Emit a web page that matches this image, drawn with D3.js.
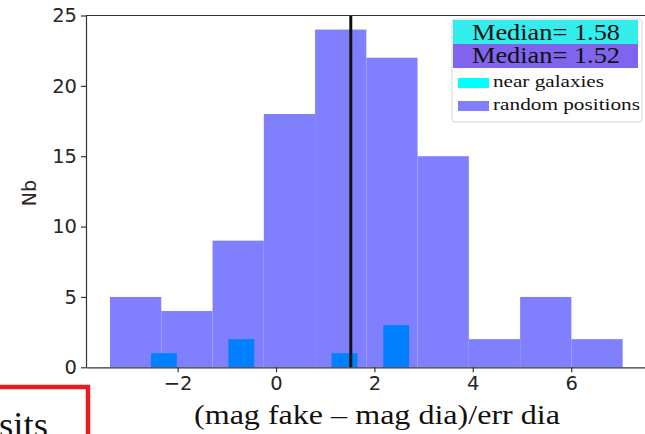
<!DOCTYPE html>
<html>
<head>
<meta charset="utf-8">
<script src="https://cdn.jsdelivr.net/npm/d3@7"></script>
<style>
  html, body { margin: 0; padding: 0; background: #fff; }
  svg { display: block; }
</style>
</head>
<body>
<svg id="chart" width="645" height="434"></svg>
<script>
// Histogram of (mag fake - mag dia)/err dia for injected sources
const randomBinEdges = [-3.374, -2.332, -1.290, -0.248, 0.794, 1.836, 2.878, 3.920, 4.962, 6.004, 7.046];
const randomCounts   = [5, 4, 9, 18, 24, 22, 15, 2, 5, 2];

const nearBinEdges = [-2.540, -2.016, -1.491, -0.967, -0.442, 0.082, 0.607, 1.131, 1.656, 2.180, 2.705];
const nearCounts   = [1, 0, 0, 2, 0, 0, 0, 1, 0, 3];

const medianNear = 1.58;
const medianRandom = 1.52;

const xTicks = [-2, 0, 2, 4, 6];
const yTicks = [0, 5, 10, 15, 20, 25];

const legendItems = [
  { label: "near galaxies", color: "#00ffff", len: 111 },
  { label: "random positions", color: "#8080ff", len: 147 }
];
const medianBoxes = [
  { label: "Median= " + medianNear.toFixed(2), color: "#33ecec" },
  { label: "Median= " + medianRandom.toFixed(2), color: "#8064ee" }
];

const svg = d3.select("#chart");

const x = d3.scaleLinear().domain([-3.862, 7.6]).range([86, 649.9]);
const y = d3.scaleLinear().domain([0, 25]).range([367.3, 15.5]);

const toBins = (edges, counts) => counts.map((c, i) => ({ x0: edges[i], x1: edges[i + 1], n: c }));

// random positions
svg.append("g").selectAll("rect")
  .data(toBins(randomBinEdges, randomCounts))
  .join("rect")
  .attr("x", d => x(d.x0))
  .attr("width", d => x(d.x1) - x(d.x0))
  .attr("y", d => y(d.n))
  .attr("height", d => y(0) - y(d.n))
  .attr("fill", "#8080ff");

// near galaxies
svg.append("g").selectAll("rect")
  .data(toBins(nearBinEdges, nearCounts).filter(d => d.n > 0))
  .join("rect")
  .attr("x", d => x(d.x0))
  .attr("width", d => x(d.x1) - x(d.x0))
  .attr("y", d => y(d.n))
  .attr("height", d => y(0) - y(d.n))
  .attr("fill", "#0080ff");

// median line
svg.append("line")
  .attr("x1", x(medianRandom)).attr("x2", x(medianRandom))
  .attr("y1", y(25)).attr("y2", y(0))
  .attr("stroke", "#111").attr("stroke-width", 3);

// axes
const axisFont = "'DejaVu Sans', sans-serif";
const serif = "'Liberation Serif', serif";
const xAxis = svg.append("g")
  .attr("transform", `translate(0,${y(0)})`)
  .call(d3.axisBottom(x).tickValues(xTicks).tickSize(5).tickPadding(4).tickSizeOuter(0));
const yAxis = svg.append("g")
  .attr("transform", `translate(${x.range()[0]},0)`)
  .call(d3.axisLeft(y).tickValues(yTicks).tickSize(5).tickPadding(4).tickSizeOuter(0));

[xAxis, yAxis].forEach(g => {
  g.select(".domain").attr("stroke", "#333").attr("stroke-width", 1.2);
  g.selectAll(".tick line").attr("stroke", "#333").attr("stroke-width", 1.2);
  g.selectAll(".tick text").attr("fill", "#262626")
    .style("font-family", axisFont).style("font-size", "19.5px");
});

// top spine
svg.append("line")
  .attr("x1", x.range()[0]).attr("x2", 645)
  .attr("y1", y(25)).attr("y2", y(25))
  .attr("stroke", "#333").attr("stroke-width", 1.2);

// axis labels
svg.append("text")
  .attr("transform", "translate(36,193) rotate(-90)")
  .attr("text-anchor", "middle")
  .style("font-family", axisFont).style("font-size", "19px")
  .attr("fill", "#262626")
  .text("Nb");

svg.append("text")
  .attr("x", 194).attr("y", 424)
  .attr("textLength", 366).attr("lengthAdjust", "spacingAndGlyphs")
  .style("font-family", serif).style("font-size", "27px")
  .attr("fill", "#111")
  .text("(mag fake \u2013 mag dia)/err dia");

// legend
const lg = svg.append("g").attr("transform", "translate(452,19)");
lg.append("rect")
  .attr("x", 0).attr("y", 0).attr("width", 190).attr("height", 103)
  .attr("rx", 3)
  .attr("fill", "#fff").attr("fill-opacity", 0.85)
  .attr("stroke", "#d6d6d6");

medianBoxes.forEach((m, i) => {
  lg.append("rect")
    .attr("x", 1).attr("y", 1 + i * 24).attr("width", 185).attr("height", 24)
    .attr("fill", m.color);
  lg.append("text")
    .attr("x", 20).attr("y", 21 + i * 23)
    .attr("textLength", 148).attr("lengthAdjust", "spacingAndGlyphs")
    .style("font-family", serif).style("font-size", "23px")
    .attr("fill", "#111")
    .text(m.label);
});

legendItems.forEach((it, i) => {
  const yy = 59 + i * 23;
  lg.append("rect")
    .attr("x", 6).attr("y", yy).attr("width", 31).attr("height", 10)
    .attr("fill", it.color);
  lg.append("text")
    .attr("x", 41).attr("y", yy + 9)
    .attr("textLength", it.len).attr("lengthAdjust", "spacingAndGlyphs")
    .style("font-family", serif).style("font-size", "17.5px")
    .attr("fill", "#111")
    .text(it.label);
});

// inset frame at the lower-left corner
svg.append("rect")
  .attr("x", -10).attr("y", 387).attr("width", 98).attr("height", 70)
  .attr("fill", "none").attr("stroke", "#e51e26").attr("stroke-width", 4.5);
svg.append("text")
  .attr("x", -1).attr("y", 437)
  .attr("textLength", 49).attr("lengthAdjust", "spacingAndGlyphs")
  .style("font-family", serif).style("font-size", "36px")
  .attr("fill", "#111")
  .text("sits");
</script>
</body>
</html>
